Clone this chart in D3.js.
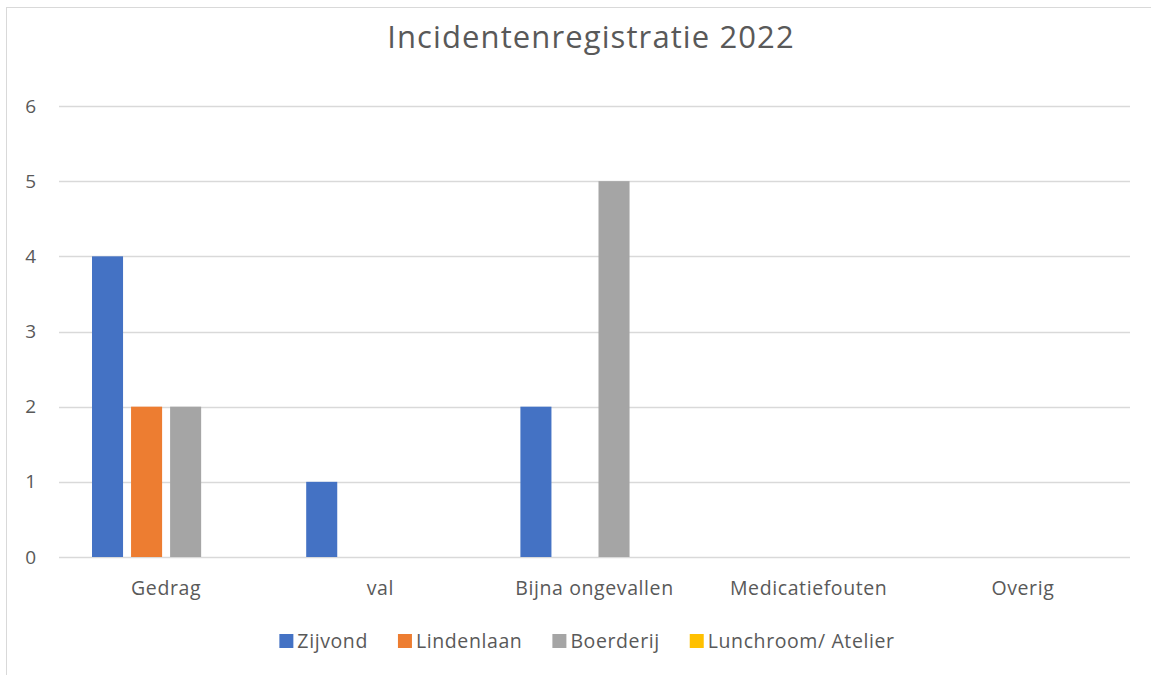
<!DOCTYPE html>
<html>
<head>
<meta charset="utf-8">
<script src="https://cdn.jsdelivr.net/npm/d3@7"></script>
<style>
  body { margin: 0; background: #fff; }
  text { font-family: "Open Sans", "Noto Sans", sans-serif; fill: #595959; }
</style>
</head>
<body>
<div id="main"></div>
<script>

// data

const categories = ['Gedrag', 'val', 'Bijna ongevallen', 'Medicatiefouten', 'Overig'];
const seriesNames = ['Zijvond', 'Lindenlaan', 'Boerderij', 'Lunchroom/ Atelier'];
const zijvond = [4, 1, 2, 0, 0];
const lindenlaan = [2, 0, 0, 0, 0];
const boerderij = [2, 0, 5, 0, 0];
const lunchroom = [0, 0, 0, 0, 0];
const yTicks = [0, 1, 2, 3, 4, 5, 6];
const colors = ['#4472c4', '#ed7d31', '#a5a5a5', '#ffc000'];

const values = [zijvond, lindenlaan, boerderij, lunchroom];

const w = 1151;
const h = 675;

// svg

const svg = d3.select('#main').append('svg').attr('width', w).attr('height', h);

// chart border
svg.append('rect')
    .attr('x', 6.5).attr('y', 7.5)
    .attr('width', w + 10).attr('height', h + 10)
    .attr('fill', 'none')
    .attr('stroke', '#d9d9d9');

// title
svg.append('text')
    .attr('x', 591).attr('y', 48)
    .attr('text-anchor', 'middle')
    .style('font-size', '31px')
    .style('letter-spacing', '1.1px')
    .text('Incidentenregistratie 2022');

// scales

const x = d3.scaleBand().domain(categories).range([59, 1130]);
const xs = d3.scaleBand().domain(seriesNames)
    .range([33, x.bandwidth() - 33])
    .paddingInner(0.205);
const y = d3.scaleLinear().domain([0, 6]).range([557, 106]);

// grid
svg.append('g')
    .selectAll('line')
    .data(yTicks)
    .enter()
    .append('line')
    .attr('x1', 59).attr('x2', 1130)
    .attr('y1', d => Math.round(y(d)) + 0.5)
    .attr('y2', d => Math.round(y(d)) + 0.5)
    .attr('stroke', '#d9d9d9')
    .attr('stroke-width', 1.3);

// y labels
svg.append('g')
    .selectAll('text')
    .data(yTicks)
    .enter()
    .append('text')
    .attr('x', 36)
    .attr('y', d => y(d))
    .attr('dy', '0.35em')
    .attr('text-anchor', 'end')
    .style('font-size', '19px')
    .text(d => d);

// bars
const groups = svg.append('g')
    .selectAll('g')
    .data(seriesNames)
    .enter()
    .append('g')
    .attr('fill', (d, i) => colors[i]);

groups.selectAll('rect')
    .data((s, i) => categories.map((c, j) => ({ s: s, c: c, v: values[i][j] })))
    .enter()
    .append('rect')
    .attr('x', d => x(d.c) + xs(d.s))
    .attr('y', d => y(d.v))
    .attr('width', xs.bandwidth())
    .attr('height', d => y(0) - y(d.v));

// category labels
svg.append('g')
    .selectAll('text')
    .data(categories)
    .enter()
    .append('text')
    .attr('x', d => x(d) + x.bandwidth() / 2)
    .attr('y', 588)
    .attr('dy', '0.35em')
    .attr('text-anchor', 'middle')
    .style('font-size', '19.5px')
    .style('letter-spacing', '0.6px')
    .text(d => d);

// legend
const legend = svg.append('g');
const items = legend.selectAll('g')
    .data(seriesNames)
    .enter()
    .append('g');

items.append('rect')
    .attr('width', 14).attr('height', 14)
    .attr('y', 634)
    .attr('fill', (d, i) => colors[i]);

items.append('text')
    .attr('x', 18)
    .attr('y', 641)
    .attr('dy', '0.35em')
    .style('font-size', '19.5px')
    .style('letter-spacing', '0.6px')
    .text(d => d);

let pos = 0;
const offsets = [];
items.each(function () {
    offsets.push(pos);
    const tw = d3.select(this).select('text').node().getComputedTextLength();
    pos += 18 + tw + 30;
});
const total = pos - 30;
const start = 587 - total / 2;
items.attr('transform', (d, i) => `translate(${start + offsets[i]},0)`);

</script>
</body>
</html>
